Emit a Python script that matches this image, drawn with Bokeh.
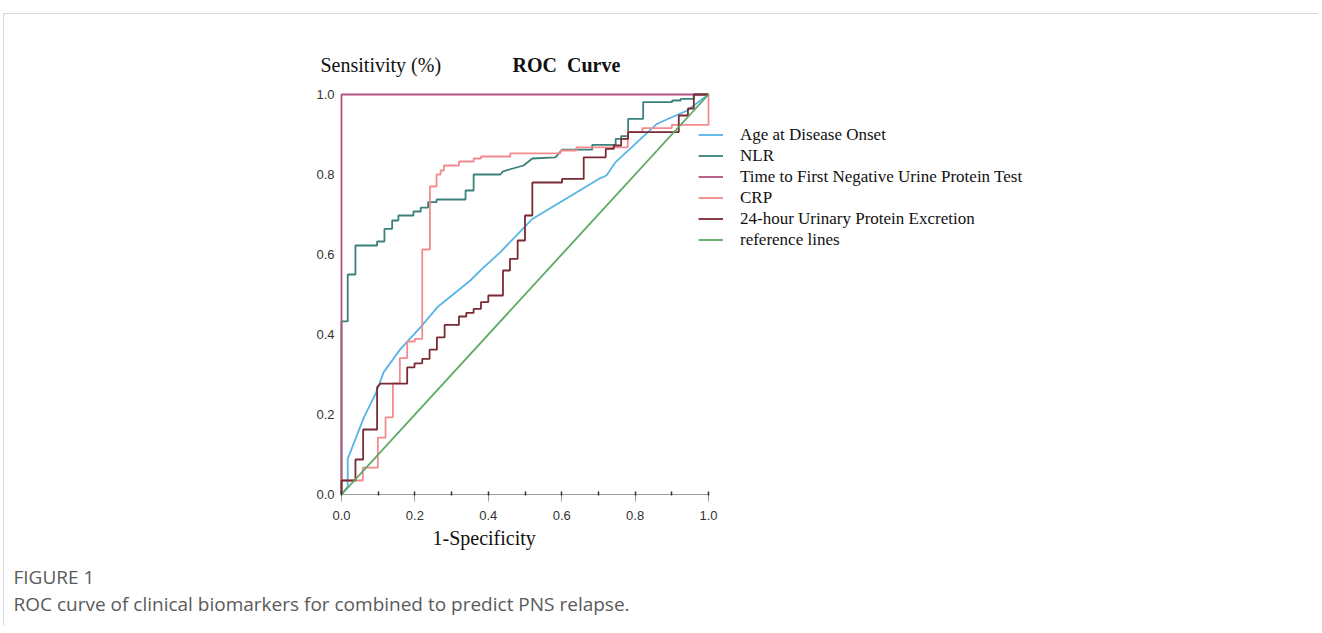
from bokeh.plotting import figure
from bokeh.layouts import column
from bokeh.models import (Range1d, Label, Legend, LegendItem,
                          SingleIntervalTicker, PrintfTickFormatter)
from bokeh.embed import file_html
from bokeh.resources import INLINE

# ---------------- data ----------------
AGE_FPR = [0, 0.017, 0.017, 0.061, 0.093, 0.115, 0.161, 0.215, 0.261, 0.351,
           0.383, 0.433, 0.52, 0.701, 0.722, 0.747, 0.86, 0.942, 0.978, 1.0]
AGE_TPR = [0, 0.02, 0.089, 0.193, 0.252, 0.306, 0.364, 0.418, 0.468, 0.535,
           0.564, 0.606, 0.689, 0.789, 0.7975, 0.831, 0.927, 0.96, 0.985, 1.0]

NLR_FPR = [0, 0, 0.017, 0.017, 0.038, 0.038, 0.097, 0.097, 0.117, 0.117,
           0.138, 0.138, 0.155, 0.155, 0.196, 0.196, 0.216, 0.216, 0.236, 0.236,
           0.259, 0.259, 0.338, 0.338, 0.36, 0.36, 0.433, 0.44, 0.496, 0.52,
           0.583, 0.601, 0.683, 0.683, 0.747, 0.747, 0.762, 0.762, 0.781, 0.781,
           0.822, 0.822, 0.901, 0.901, 0.924, 0.924, 0.96, 0.96, 1.0]
NLR_TPR = [0, 0.433, 0.433, 0.55, 0.55, 0.6225, 0.6225, 0.6325, 0.6325, 0.664,
           0.664, 0.685, 0.685, 0.6975, 0.6975, 0.7075, 0.7075, 0.717, 0.717, 0.731,
           0.731, 0.7375, 0.7375, 0.76, 0.76, 0.80, 0.80, 0.808, 0.8225, 0.84,
           0.843, 0.862, 0.862, 0.874, 0.874, 0.889, 0.889, 0.896, 0.896, 0.939,
           0.939, 0.981, 0.981, 0.985, 0.985, 0.989, 0.989, 1.0, 1.0]

TIME_FPR = [0, 0, 1.0]
TIME_TPR = [0, 1.0, 1.0]

CRP_FPR = [0, 0, 0.058, 0.058, 0.099, 0.099, 0.12, 0.12, 0.14, 0.14,
           0.159, 0.159, 0.179, 0.179, 0.2, 0.2, 0.22, 0.22, 0.241, 0.241,
           0.259, 0.259, 0.27, 0.27, 0.279, 0.279, 0.32, 0.32, 0.36, 0.36,
           0.38, 0.38, 0.46, 0.46, 0.597, 0.597, 0.64, 0.64, 0.78, 0.78,
           0.82, 0.82, 0.90, 0.90, 1.0, 1.0]
CRP_TPR = [0, 0.035, 0.035, 0.067, 0.067, 0.142, 0.142, 0.193, 0.193, 0.278,
           0.278, 0.341, 0.341, 0.3825, 0.3825, 0.389, 0.389, 0.6125, 0.6125, 0.77,
           0.77, 0.80, 0.80, 0.81, 0.81, 0.8225, 0.8225, 0.8325, 0.8325, 0.84,
           0.84, 0.845, 0.845, 0.853, 0.853, 0.86, 0.86, 0.868, 0.868, 0.906,
           0.906, 0.916, 0.916, 0.924, 0.924, 1.0]

UP_FPR = [0, 0, 0.038, 0.038, 0.059, 0.059, 0.097, 0.097, 0.106, 0.179,
          0.179, 0.199, 0.199, 0.22, 0.22, 0.24, 0.24, 0.26, 0.26, 0.281,
          0.281, 0.32, 0.32, 0.34, 0.34, 0.36, 0.36, 0.38, 0.38, 0.40,
          0.40, 0.44, 0.44, 0.459, 0.459, 0.48, 0.48, 0.50, 0.50, 0.52,
          0.52, 0.601, 0.601, 0.66, 0.66, 0.72, 0.72, 0.742, 0.742, 0.762,
          0.762, 0.781, 0.781, 0.919, 0.919, 0.944, 0.944, 0.96, 0.96, 1.0]
UP_TPR = [0, 0.035, 0.035, 0.0875, 0.0875, 0.1625, 0.1625, 0.268, 0.277, 0.277,
          0.318, 0.318, 0.328, 0.328, 0.339, 0.339, 0.362, 0.362, 0.393, 0.393,
          0.424, 0.424, 0.445, 0.445, 0.454, 0.454, 0.464, 0.464, 0.481, 0.481,
          0.4975, 0.4975, 0.56, 0.56, 0.589, 0.589, 0.635, 0.635, 0.6975, 0.6975,
          0.78, 0.78, 0.789, 0.789, 0.843, 0.843, 0.864, 0.864, 0.8725, 0.8725,
          0.889, 0.889, 0.906, 0.906, 0.9475, 0.9475, 0.965, 0.965, 1.0, 1.0]

REF_FPR = [0, 1]
REF_TPR = [0, 1]

SERIES_NAMES = ["Age at Disease Onset", "NLR", "Time to First Negative Urine Protein Test",
                "CRP", "24-hour Urinary Protein Excretion", "reference lines"]
SERIES_COLORS = ["#58b4e6", "#3a817b", "#b4527f", "#f28a8e", "#7a2b33", "#5aa962"]

X_TICK_INTERVAL = 0.2

# ---------------- layout (page pixels) ----------------
OX, OY = 4, 14             # page position of content top-left (inside border)
W = 1314
TOP_END = 86               # page y where main figure starts
MAIN_END = 525             # page y where bottom figure starts
PAGE_END = 625
X0_PX, X1_PX = 341, 708    # page x of fpr 0 and 1
FR_L, FR_R, FR_T, FR_B = 339, 1120, 92, 494   # plot frame on page (extends right for legend)
PX_PER_X = X1_PX - X0_PX


def blank_fig(h):
    f = figure(width=W, height=h, output_backend="svg", toolbar_location=None,
               x_range=Range1d(0, 1), y_range=Range1d(0, 1), frame_align=False,
               min_border_left=0, min_border_right=0, min_border_top=0, min_border_bottom=0)
    f.title.visible = False
    f.axis.visible = False
    f.xgrid.visible = False
    f.ygrid.visible = False
    f.outline_line_color = None
    return f


def add_label(f, fig_top, fig_h, text, px, py, font, size, color="#111111", style="normal"):
    # px, py: page position of the text start / baseline
    f.add_layout(Label(x=px - OX, y=fig_h - (py - fig_top), x_units="screen", y_units="screen",
                       text=text, text_font=font, text_font_size=size, text_color=color,
                       text_font_style=style, text_baseline="alphabetic", text_align="left"))


# ---- top strip: titles ----
H_TOP = TOP_END - OY
top = blank_fig(H_TOP)
add_label(top, OY, H_TOP, "Sensitivity (%)", 320, 64, "Liberation Serif", "20px")
add_label(top, OY, H_TOP, "ROC\u00a0 Curve", 512, 64, "Liberation Serif", "20px", style="bold")

# ---- main ROC plot ----
H_MAIN = MAIN_END - TOP_END
p = figure(width=W, height=H_MAIN, output_backend="svg", toolbar_location=None,
           x_range=Range1d((FR_L - X0_PX) / PX_PER_X, (FR_R - X0_PX) / PX_PER_X),
           y_range=Range1d(0, 1 + 2 / 400), frame_align=False,
           min_border_left=FR_L - OX, min_border_right=W - (FR_R - OX),
           min_border_top=FR_T - TOP_END, min_border_bottom=MAIN_END - FR_B)
p.title.visible = False
p.xgrid.visible = False
p.ygrid.visible = False
p.outline_line_color = None

xa = p.xaxis[0]
xa.bounds = (0, 1)
xa.ticker = SingleIntervalTicker(interval=X_TICK_INTERVAL, num_minor_ticks=2)
xa.formatter = PrintfTickFormatter(format="%.1f")
xa.axis_line_color = "#a0a0a0"
xa.axis_line_width = 1.2
xa.major_tick_line_color = "#a0a0a0"
xa.major_tick_out = 7
xa.major_tick_in = 0
xa.minor_tick_line_color = "#333333"
xa.minor_tick_line_width = 1.5
xa.minor_tick_in = 3
xa.minor_tick_out = 1
xa.major_label_text_font = "Liberation Sans"
xa.major_label_text_font_size = "13px"
xa.major_label_text_color = "#333333"
xa.major_label_standoff = 9

ya = p.yaxis[0]
ya.ticker = SingleIntervalTicker(interval=X_TICK_INTERVAL, num_minor_ticks=0)
ya.formatter = PrintfTickFormatter(format="%.1f")
ya.axis_line_color = None
ya.major_tick_line_color = None
ya.minor_tick_line_color = None
ya.major_tick_out = 0
ya.major_tick_in = 0
ya.major_label_text_font = "Liberation Sans"
ya.major_label_text_font_size = "13px"
ya.major_label_text_color = "#333333"
ya.major_label_standoff = 5

LW = 1.8
xs = [AGE_FPR, NLR_FPR, TIME_FPR, CRP_FPR, UP_FPR, REF_FPR]
ys = [AGE_TPR, NLR_TPR, TIME_TPR, CRP_TPR, UP_TPR, REF_TPR]
renderers = []
for x, y, c in zip(xs, ys, SERIES_COLORS):
    renderers.append(p.line(x, y, line_color=c, line_width=LW))

legend = Legend(items=[LegendItem(label=n, renderers=[r]) for n, r in zip(SERIES_NAMES, renderers)],
                location=(698 - FR_L, FR_B - 250),
                glyph_width=25, glyph_height=21, label_height=21, spacing=0,
                padding=0, margin=0, label_standoff=17,
                border_line_color=None, background_fill_alpha=0,
                label_text_font="Liberation Serif", label_text_font_size="17px",
                label_text_color="#111111")
p.add_layout(legend)

# ---- bottom strip: x title and caption ----
H_BOT = PAGE_END - MAIN_END
bot = blank_fig(H_BOT)
add_label(bot, MAIN_END, H_BOT, "1-Specificity", 432, 537, "Liberation Serif", "20px")
add_label(bot, MAIN_END, H_BOT, "FIGURE 1", 13, 576, "Open Sans", "19px", color="#5a5a5a")
add_label(bot, MAIN_END, H_BOT,
          "ROC curve of clinical biomarkers for combined to predict PNS relapse.",
          13, 603, "Open Sans", "19px", color="#5a5a5a")

layout = column(top, p, bot, spacing=0,
                styles={"margin-left": "3px", "margin-top": "13px",
                        "border-top": "1px solid #d6d6d6", "border-left": "1px solid #d6d6d6"})

open("out.html", "w").write(file_html(layout, INLINE))
